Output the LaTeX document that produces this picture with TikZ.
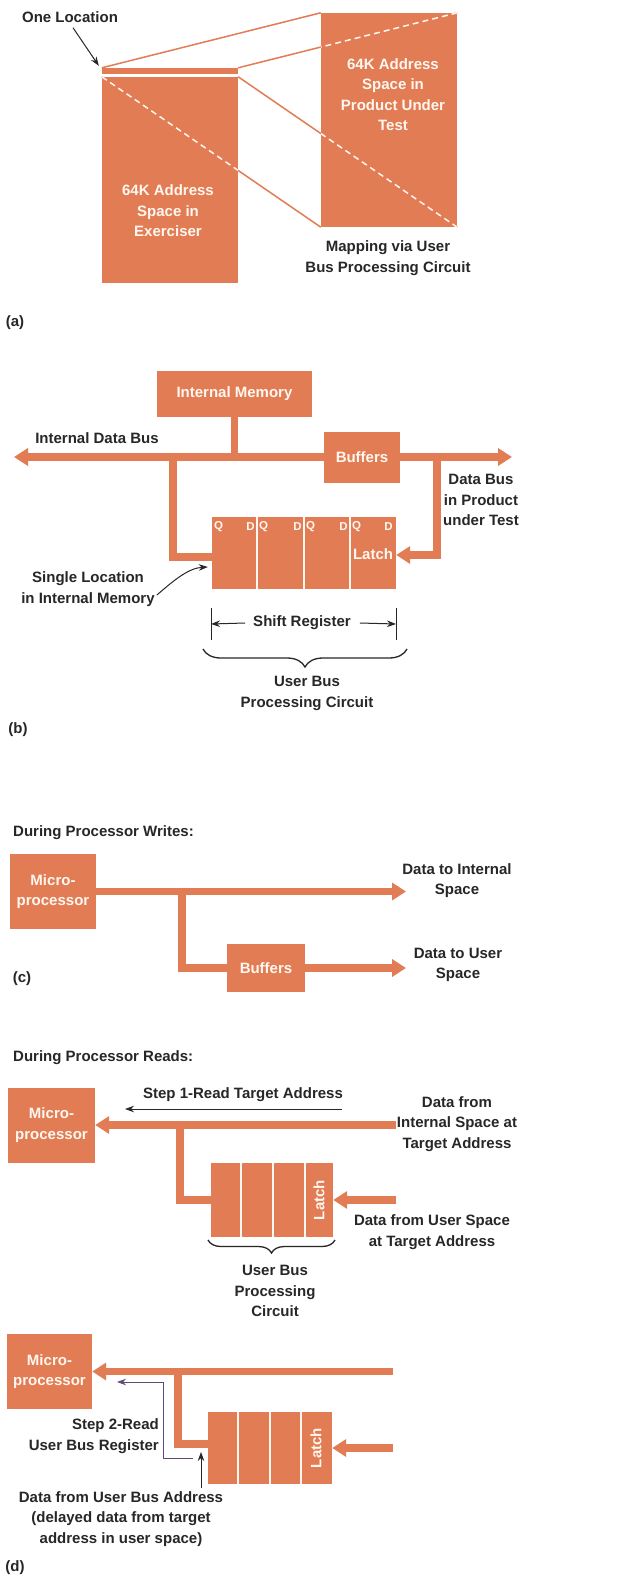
\documentclass[tikz,border=0pt]{standalone}
\usepackage{fontspec}
\setmainfont{Liberation Sans}
\usetikzlibrary{arrows.meta,decorations.pathreplacing,calc}
\definecolor{hpor}{RGB}{226,124,84}
\definecolor{ink}{RGB}{40,38,38}
\definecolor{cream}{RGB}{255,247,240}
\definecolor{violetline}{RGB}{95,75,115}
\begin{document}
\begin{tikzpicture}[x=1pt,y=-1pt,
  every node/.style={font=\fontsize{15}{20.5}\selectfont\bfseries, text=ink, inner sep=0pt, align=center},
  blk/.style={fill=hpor, draw=none, text=cream},
  wlab/.style={text=cream},
  small/.style={font=\fontsize{11.5}{13}\selectfont\bfseries, text=cream},
  bus/.style={draw=hpor, line width=7.5pt, line join=miter, >={Triangle[width=17pt,length=14pt]}},
  fine/.style={draw=ink, line width=1pt, >={Stealth[length=9pt,width=6.5pt]}},
  mapline/.style={draw=hpor, line width=1.5pt},
  dashline/.style={draw=cream, line width=1.5pt, dash pattern=on 6pt off 4pt},
  divider/.style={draw=cream, line width=1.5pt},
  bracestyle/.style={draw=ink, line width=1.3pt, decorate},
]
\useasboundingbox (0,0) rectangle (643,1576);
\fill[white] (0,0) rectangle (643,1576);

% ---------------- (a) ----------------
\node[blk, minimum width=136, minimum height=6] (loc) at (170,71) {};
\node[blk, minimum width=136, minimum height=206] (exer) at (170,180) {};
\node[blk, minimum width=136, minimum height=214] (prod) at (389,120) {};
\draw[mapline] (loc.north west) -- (prod.north west);
\draw[mapline] (loc.north east) -- (prod.north east);
\draw[mapline] (exer.north west) -- (prod.south west);
\draw[mapline] (exer.north east) -- (prod.south east);
\begin{scope}
  \clip (exer.north west) rectangle (exer.south east);
  \draw[dashline] (exer.north west) -- (prod.south west);
\end{scope}
\begin{scope}
  \clip (prod.north west) rectangle (prod.south east);
  \draw[dashline] (loc.north east) -- (prod.north east);
  \draw[dashline] (exer.north east) -- (prod.south east);
\end{scope}
\node[wlab] (exerT) at (168,211) {64K Address\\Space in\\Exerciser};
\node[wlab] (prodT) at (393,94.5) {64K Address\\Space in\\Product Under\\Test};
\node (mapT) at (388,258) {Mapping via User\\Bus Processing Circuit};
\node (oneT) at (70,17) {One Location};
\draw[fine,->] ($(oneT.south)+(3,5)$) .. controls (84,44) .. ($(loc.north west)+(-3,-2)$);
\node (la) at (15,323) {(a)};

% ---------------- (b) ----------------
\coordinate (busL) at (14,457);
\coordinate (busR) at (512,457);
\node[blk, minimum width=155, minimum height=46] (mem) at (234.5,394) {Internal Memory};
\node[blk, minimum width=184, minimum height=72] (reg) at (304,553) {};
\draw[bus,<->] (busL) -- (busR);
\draw[bus] (mem.south) -- (mem.south |- busL);
\coordinate (bT) at (173,457);
\coordinate (bL) at (173,557);
\draw[bus] (bT) -- (bL) -- (bL -| reg.west);
\coordinate (rT) at (437,457);
\coordinate (rB) at (437,555);
\draw[bus,->] (rT) -- (rB) -- (rB -| reg.east);
\node[blk, minimum width=76, minimum height=51] (buf) at (362,457.5) {Buffers};
\node[blk, minimum width=184, minimum height=72] (reg) at (304,553) {};
\draw[divider] (257,517) -- (257,589);
\draw[divider] (304,517) -- (304,589);
\draw[divider] (350,517) -- (350,589);
\node[small] (q1) at (218.5,527) {Q};
\node[small] (d1) at (250.5,527) {D};
\node[small] (q2) at (263.5,527) {Q};
\node[small] (d2) at (297.5,527) {D};
\node[small] (q3) at (310.5,527) {Q};
\node[small] (d3) at (343.5,527) {D};
\node[small] (q4) at (356.5,527) {Q};
\node[small] (d4) at (388.5,527) {D};
\node[wlab] (latchB) at (373,554) {Latch};
\node (idb) at (97,438) {Internal Data Bus};
\node (dbp) at (481,500) {Data Bus\\in Product\\under Test};
\node (sloc) at (88,589) {Single Location\\in Internal Memory};
\draw[fine,->] ($(sloc.east)+(2,6)$) .. controls (172,582) and (188,568) .. ($(reg.west)+(-4,14)$);
\coordinate (tkL) at (211,624);
\coordinate (tkR) at (396,624);
\draw[fine] (211,608) -- (211,640);
\draw[fine] (396,608) -- (396,640);
\node (sr) at (302,623) {Shift Register};
\draw[fine,->] ($(sr.west)+(-8,0)$) -- (tkL);
\draw[fine,->] ($(sr.east)+(9,0)$) -- (tkR);
\coordinate (brL) at (203,649);
\coordinate (brR) at (407,649);
\draw[bracestyle, decoration={brace, mirror, amplitude=18pt}] (brL) -- (brR);
\node (ubpc) at (307,693.5) {User Bus\\Processing Circuit};
\node (lb) at (18,730) {(b)};

% ---------------- (c) ----------------
\node[anchor=west] (dpw) at (13,833) {During Processor Writes:};
\node[blk, minimum width=86, minimum height=75] (mc) at (53,891.5) {Micro-\\processor};
\coordinate (cEnd1) at (406,891.5);
\coordinate (cJ) at (182,891.5);
\coordinate (cK) at (182,968);
\coordinate (cEnd2) at (406,968);
\node[blk, minimum width=78, minimum height=48] (bf2) at (266,968) {Buffers};
\draw[bus,->] (mc.east) -- (cEnd1);
\draw[bus] (cJ) -- (cK) -- (bf2.west);
\draw[bus,->] (bf2.east) -- (cEnd2);
\node[blk, minimum width=78, minimum height=48] (bf2) at (266,968) {Buffers};
\node (dti) at (457,880.5) {Data to Internal\\Space};
\node (dtu) at (458,965) {Data to User\\Space};
\node (lc) at (22,979) {(c)};

% ---------------- (d) first ----------------
\node[anchor=west] (dpr) at (13,1058) {During Processor Reads:};
\node[blk, minimum width=87, minimum height=75] (m1) at (51.5,1125) {Micro-\\processor};
\node[blk, minimum width=122, minimum height=74] (reg1) at (272,1200) {};
\coordinate (d1R) at (396,1125);
\coordinate (d1J) at (180,1125);
\coordinate (d1K) at (180,1200);
\coordinate (d1L) at (396,1200);
\draw[bus,->] (d1R) -- (m1.east);
\draw[bus] (d1J) -- (d1K) -- (reg1.west);
\draw[bus,->] (d1L) -- (reg1.east);
\draw[divider] (241,1163) -- (241,1237);
\draw[divider] (273,1163) -- (273,1237);
\draw[divider] (305,1163) -- (305,1237);
\node[wlab, rotate=90] (latch1) at (319,1200) {Latch};
\coordinate (s1a) at (342,1109);
\coordinate (s1b) at (125,1109);
\draw[fine,->] (s1a) -- (s1b);
\node (st1) at (243,1095) {Step 1-Read Target Address};
\node (dfi) at (457,1124) {Data from\\Internal Space at\\Target Address};
\node (dfu) at (432,1232) {Data from User Space\\at Target Address};
\coordinate (br1L) at (208,1240);
\coordinate (br1R) at (335,1240);
\draw[bracestyle, decoration={brace, mirror, amplitude=13pt}] (br1L) -- (br1R);
\node (ubpc1) at (275,1291) {User Bus\\Processing\\Circuit};

% ---------------- (d) second ----------------
\node[blk, minimum width=85, minimum height=75] (m2) at (49.5,1371.5) {Micro-\\processor};
\node[blk, minimum width=124, minimum height=72] (reg2) at (270,1448) {};
\coordinate (d2R) at (393,1371.5);
\coordinate (d2J) at (178,1371.5);
\coordinate (d2K) at (178,1444);
\coordinate (d2L) at (393,1448);
\draw[bus,->] (d2R) -- (m2.east);
\draw[bus] (d2J) -- (d2K) -- (d2K -| reg2.west);
\draw[bus,->] (d2L) -- (reg2.east);
\draw[divider] (238,1412) -- (238,1484);
\draw[divider] (270,1412) -- (270,1484);
\draw[divider] (301,1412) -- (301,1484);
\node[wlab, rotate=90] (latch2) at (316,1448) {Latch};
\coordinate (s2a) at (193,1458);
\coordinate (s2b) at (163,1458);
\coordinate (s2c) at (163,1382);
\coordinate (s2d) at (117,1382);
\draw[fine, draw=violetline, ->] (s2a) -- (s2b) -- (s2c) -- (s2d);
\coordinate (upA) at (201,1488);
\coordinate (upB) at (201,1452);
\draw[fine,->] (upA) -- (upB);
\node[anchor=east, align=right] (st2) at (159,1436) {Step 2-Read\\User Bus Register};
\node (dfub) at (121,1519) {Data from User Bus Address\\(delayed data from target\\address in user space)};
\node (ld) at (15,1568) {(d)};
\end{tikzpicture}
\end{document}
